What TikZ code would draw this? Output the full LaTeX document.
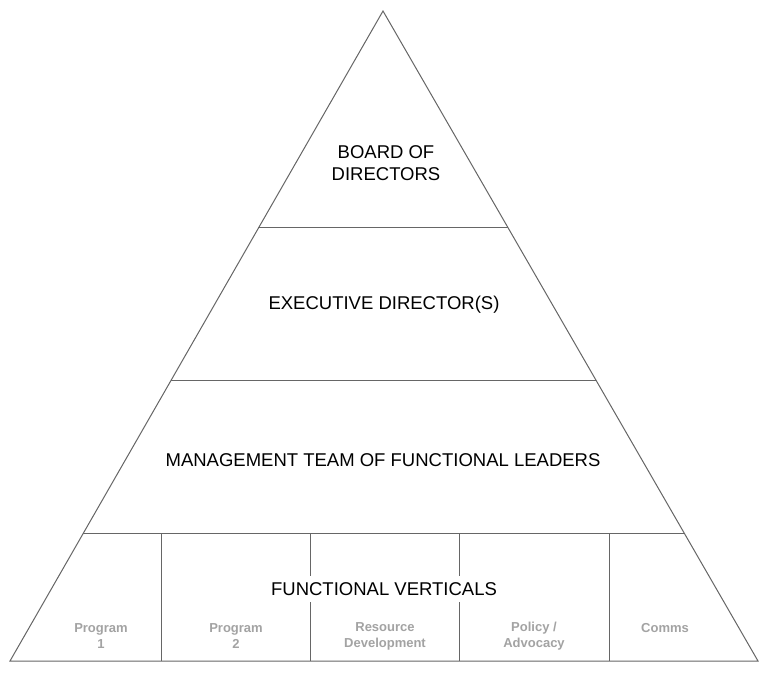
\documentclass[tikz,border=0pt]{standalone}
\usepackage{fontspec}
\setmainfont{Liberation Sans}
\usetikzlibrary{calc}
\definecolor{linegray}{HTML}{666666}
\definecolor{labelgray}{HTML}{A3A3A3}
\begin{document}
\begin{tikzpicture}[x=1pt,y=-1pt,
  edge/.style={draw=linegray,line width=1pt},
  tiertext/.style={font=\fontsize{18.5}{22}\selectfont,text=black,align=center,inner sep=2pt},
  celltext/.style={font=\fontsize{13}{16}\selectfont\bfseries,text=labelgray,align=center,inner sep=1pt}]
\useasboundingbox[fill=white] (0,0) rectangle (765,673);
\coordinate (A) at (383,11);
\coordinate (L) at (10,661);
\coordinate (R) at (758,661);
% tier boundaries (fractions along edges: (y-11)/650)
\coordinate (l1) at ($(A)!0.3338!(L)$);
\coordinate (r1) at ($(A)!0.3338!(R)$);
\coordinate (l2) at ($(A)!0.5692!(L)$);
\coordinate (r2) at ($(A)!0.5692!(R)$);
\coordinate (l3) at ($(A)!0.8031!(L)$);
\coordinate (r3) at ($(A)!0.8031!(R)$);
\draw[edge,line join=miter] (A) -- (L) -- (R) -- cycle;
\draw[edge] (l1) -- (r1);
\draw[edge] (l2) -- (r2);
\draw[edge] (l3) -- (r3);
% vertical dividers
\foreach \x [count=\i] in {161,310,459,609}{
  \coordinate (vt\i) at (\x,533);
  \coordinate (vb\i) at (\x,661);
  \draw[edge] (vt\i) -- (vb\i);
}
\node[tiertext] (board) at (386,163) {BOARD OF\\DIRECTORS};
\node[tiertext] (exec) at (384,305) {EXECUTIVE DIRECTOR(S)};
\node[tiertext] (mgmt) at (383,460) {MANAGEMENT TEAM OF FUNCTIONAL LEADERS};
\node[tiertext,fill=white,inner ysep=6pt] (fv) at (384,589) {FUNCTIONAL VERTICALS};
\node[celltext] (p1) at (101,636) {Program\\1};
\node[celltext] (p2) at (236,636) {Program\\2};
\node[celltext] (rd) at (385,636) {Resource\\Development};
\node[celltext] (pa) at (534,636) {Policy /\\Advocacy};
\node[celltext] (cm) at (665,628) {Comms};
\end{tikzpicture}
\end{document}
